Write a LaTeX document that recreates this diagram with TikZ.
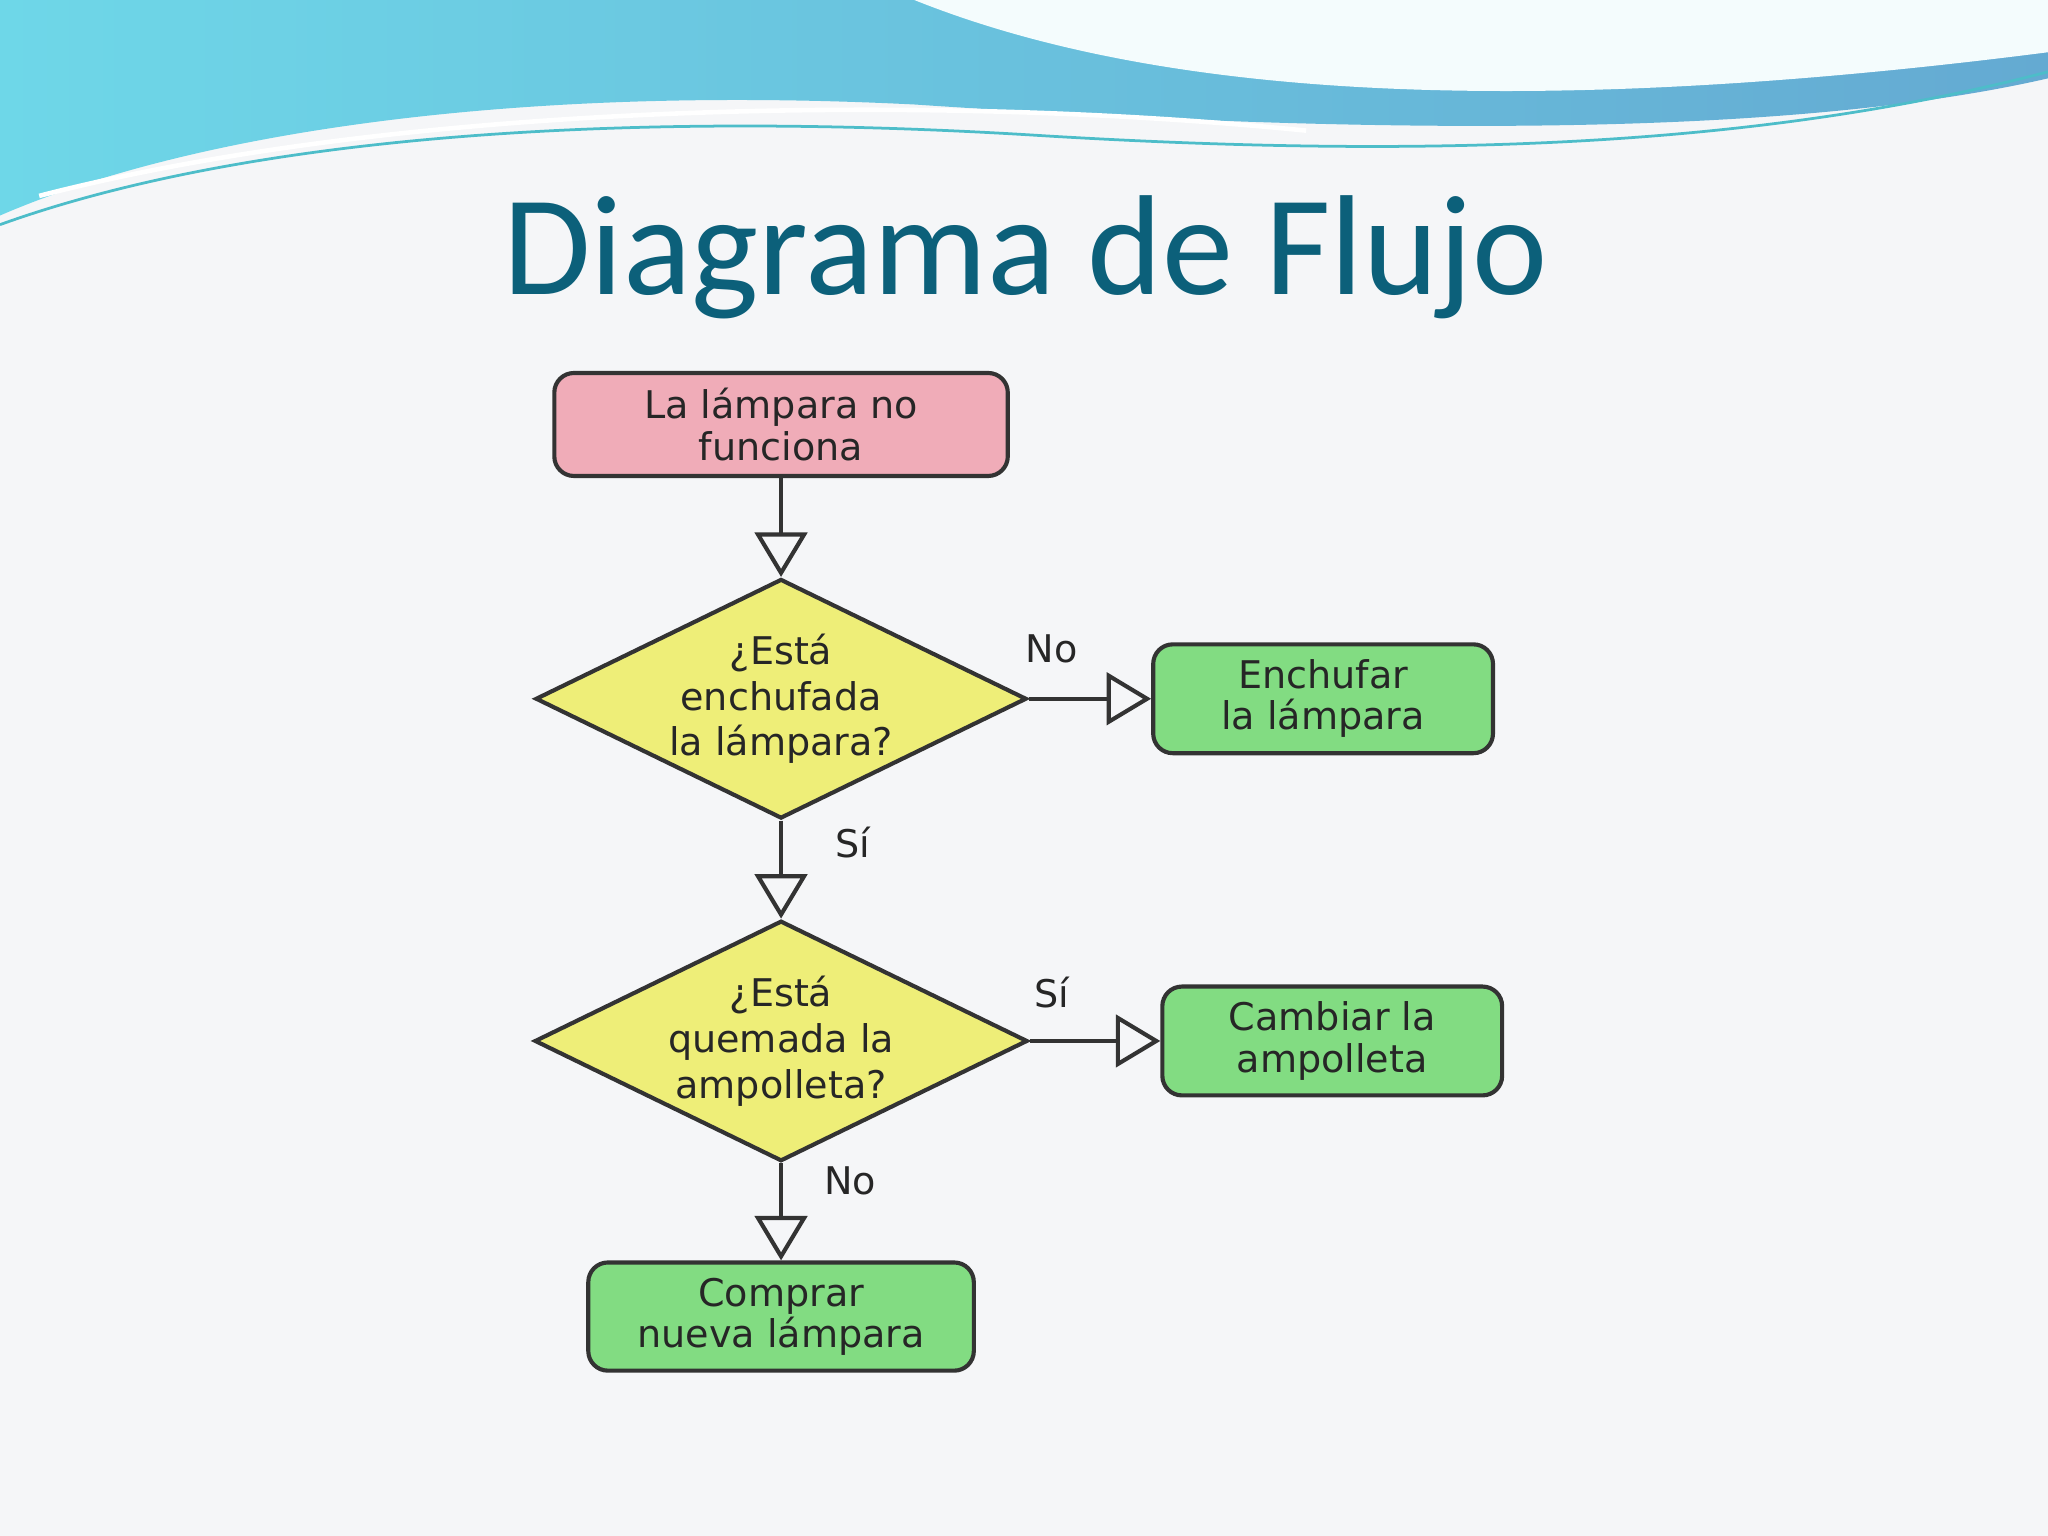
\documentclass[tikz,border=0pt]{standalone}
\usepackage{fontspec}
\setmainfont{DejaVu Sans}
\newfontfamily\titlefont{Carlito}
\usetikzlibrary{arrows.meta,shapes.geometric}
\definecolor{bg}{RGB}{245,246,248}
\definecolor{pinkf}{RGB}{240,172,184}
\definecolor{yelf}{RGB}{238,238,120}
\definecolor{greenf}{RGB}{130,220,130}
\definecolor{titlec}{RGB}{12,96,122}
\definecolor{waveA}{RGB}{110,215,232}
\definecolor{waveB}{RGB}{100,170,210}
\tikzset{
  box/.style={draw=black!80, line width=0.9pt, rounded corners=0.15cm, font=\fontsize{8.3}{9}\selectfont, align=center, text=black!85},
  dec/.style={draw=black!80, line width=0.9pt, fill=yelf, diamond, aspect=2.05, inner sep=0pt, minimum width=3.69cm, minimum height=1.8cm, font=\fontsize{8.3}{10}\selectfont, align=center, text=black!85},
  flow/.style={draw=black!80, line width=0.9pt, -{Triangle[open, length=0.34cm, width=0.4cm]}},
  lbl/.style={font=\fontsize{8.3}{9}\selectfont, text=black!85}
}
\begin{document}
\begin{tikzpicture}[x=0.01cm,y=-0.01cm]
\fill[bg] (0,0) rectangle (1568,1176);
\useasboundingbox (0,0) rectangle (1568,1176);
% top wave
\shade[left color=waveA, right color=waveB] (0,0) -- (1568,0) -- (1568,60) .. controls (1350,110) and (1000,100) .. (700,80) .. controls (400,65) and (150,100) .. (0,165) -- cycle;
\fill[white!92!waveA] (700,0) .. controls (850,60) and (1100,100) .. (1568,40) -- (1568,0) -- cycle;
\fill[bg] (0,175) .. controls (200,100) and (500,85) .. (800,100) .. controls (1100,120) and (1350,110) .. (1568,65) -- (1568,75) .. controls (1350,125) and (1100,130) .. (800,112) .. controls (500,95) and (200,110) .. (0,180) -- cycle;
\draw[waveA!70!teal, line width=0.6pt] (0,172) .. controls (200,100) and (500,85) .. (800,104) .. controls (1100,122) and (1350,112) .. (1568,55);
\draw[white, line width=1pt] (30,150) .. controls (300,80) and (700,70) .. (1000,100);
% title
\node[font=\titlefont\fontsize{31}{33}\selectfont, text=titlec] (title) at (785,197) {Diagrama de Flujo};
% nodes
\node[box, fill=pinkf, minimum width=3.47cm, minimum height=0.75cm] (start) at (598,325) {La lámpara no\\funciona};
\node[dec] (d1) at (598,535) {¿Está\\enchufada\\la lámpara?};
\node[box, fill=greenf, minimum width=2.6cm, minimum height=0.77cm] (b1) at (1013,535) {Enchufar\\la lámpara};
\node[dec] (d2) at (598,797) {¿Está\\quemada la\\ampolleta?};
\node[box, fill=greenf, minimum width=2.6cm, minimum height=0.77cm] (b2) at (1020,797) {Cambiar la\\ampolleta};
\node[box, fill=greenf, minimum width=2.95cm, minimum height=0.77cm] (b3) at (598,1008) {Comprar\\nueva lámpara};
% connectors
\draw[flow] (start) -- (d1);
\draw[flow] (d1) -- (b1);
\draw[flow] (d1) -- (d2);
\draw[flow] (d2) -- (b2);
\draw[flow] (d2) -- (b3);
\node[lbl] (l1) at (805,497) {No};
\node[lbl] (l2) at (653,645) {Sí};
\node[lbl] (l3) at (805,760) {Sí};
\node[lbl] (l4) at (651,904) {No};
\end{tikzpicture}
\end{document}
